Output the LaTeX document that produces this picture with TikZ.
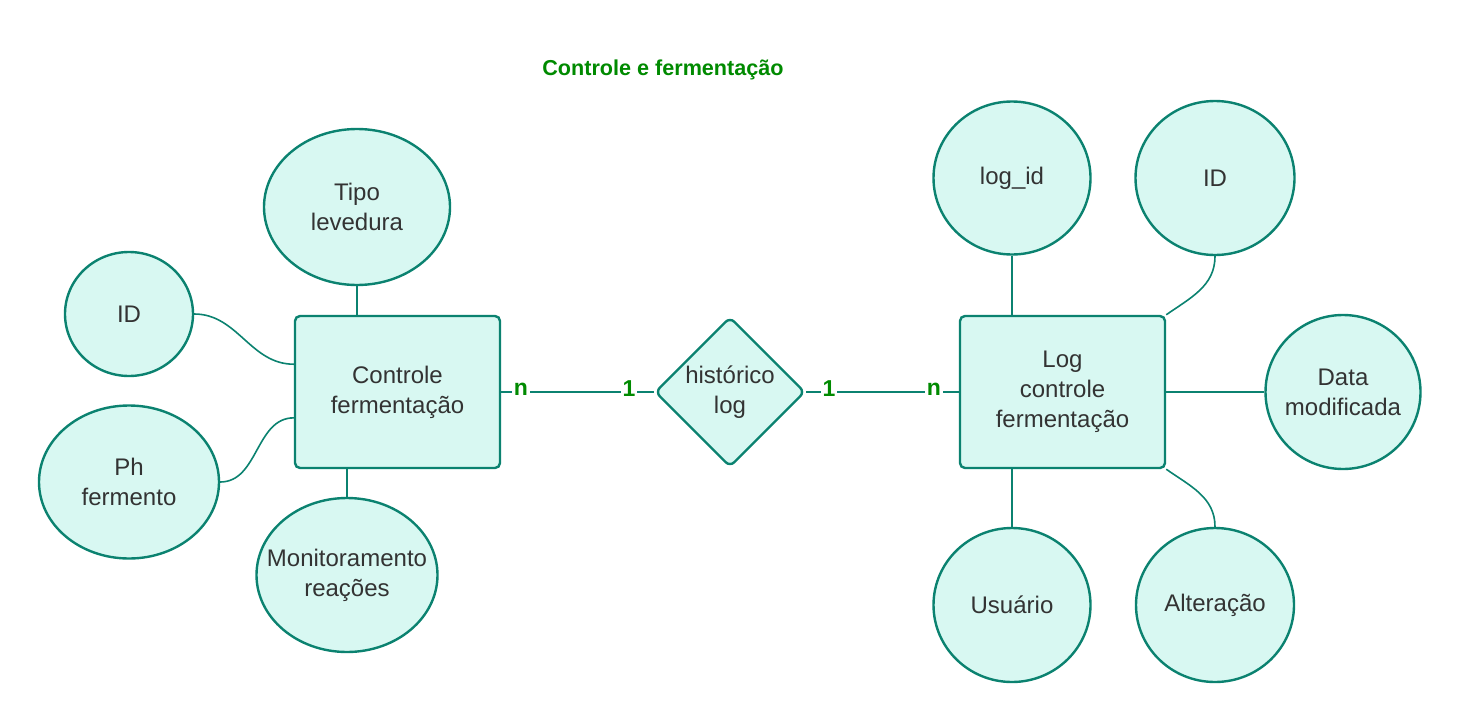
\documentclass[tikz,border=0pt]{standalone}
\usepackage{fontspec}
\setmainfont{Liberation Sans}
\usetikzlibrary{shapes.geometric,positioning}
\definecolor{borda}{HTML}{0B8270}
\definecolor{fundo}{HTML}{D8F8F2}
\definecolor{texto}{HTML}{333333}
\definecolor{verde}{HTML}{008A00}

\begin{document}
\begin{tikzpicture}[x=1pt,y=-1pt,
        entidade/.style={draw=borda, fill=fundo, line width=2.4pt, rounded corners=5pt,
            minimum width=205pt, minimum height=152pt, align=center, text=texto,
            font=\fontsize{24}{30}\selectfont},
        atributo/.style={ellipse, draw=borda, fill=fundo, line width=2.4pt, inner sep=0pt,
            align=center, text=texto, font=\fontsize{24}{30}\selectfont},
        relacao/.style={diamond, draw=borda, fill=fundo, line width=2.4pt, rounded corners=6pt,
            minimum width=150pt, minimum height=150pt, inner sep=0pt, align=center,
            text=texto, font=\fontsize{24}{30}\selectfont},
        ligacao/.style={draw=borda, line width=1.6pt},
        card/.style={text=verde, fill=white, inner sep=1.5pt,
            font=\bfseries\fontsize{23}{23}\selectfont}]
    \useasboundingbox (0,0) rectangle (1461,720);

    \node[text=verde, font=\bfseries\fontsize{21.6}{24}\selectfont] (titulo) at (663,70) {Controle e fermentação};

    % entidades e relacao
    \node[entidade] (ctrl) at (397.5,392) {Controle\\fermentação};
    \node[relacao] (hist) at (730,392) {histórico\\log};
    \node[entidade] (logc) at (1062.5,392) {Log\\controle\\fermentação};

    % atributos de controle
    \node[atributo, minimum width=186pt, minimum height=156pt] (tipo) at (357,207) {Tipo\\levedura};
    \node[atributo, minimum width=128pt, minimum height=124pt] (idc) at (129,314) {ID};
    \node[atributo, minimum width=180pt, minimum height=153pt] (ph) at (129,482) {Ph\\fermento};
    \node[atributo, minimum width=181pt, minimum height=154pt, inner xsep=-18pt] (monit) at (347,575) {Monitoramento\\reações};

    % atributos do log
    \node[atributo, minimum width=157pt, minimum height=153pt] (logid) at (1012,178) {log\_id};
    \node[atributo, minimum width=159pt, minimum height=154pt] (idl) at (1215,178) {ID};
    \node[atributo, minimum width=155pt, minimum height=154pt, inner xsep=-8pt] (data) at (1343,392) {Data\\modificada};
    \node[atributo, minimum width=157pt, minimum height=154pt] (usu) at (1012,605) {Usuário};
    \node[atributo, minimum width=158pt, minimum height=154pt] (alt) at (1215,605) {Alteração};

    % ligacoes
    \draw[ligacao] (tipo.south) -- (tipo.south |- ctrl.north);
    \draw[ligacao] (idc.east) to[out=0, in=180] (ctrl.165);
    \draw[ligacao] (ph.east) to[out=0, in=180] (ctrl.194);
    \draw[ligacao] (monit.north) -- (monit.north |- ctrl.south);
    \draw[ligacao] (ctrl.east) -- (hist.west);
    \draw[ligacao] (hist.east) -- (logc.west);
    \draw[ligacao] (logid.south) -- (logid.south |- logc.north);
    \draw[ligacao] (idl.south) to[out=270, in=35] (logc.north east);
    \draw[ligacao] (data.west) -- (logc.east);
    \draw[ligacao] (usu.north) -- (usu.north |- logc.south);
    \draw[ligacao] (logc.south east) to[out=-35, in=90] (alt.north);

    % cardinalidades
    \node[card] (c1) at (521,389) {n};
    \node[card] (c2) at (629,389) {1};
    \node[card] (c3) at (829,389) {1};
    \node[card] (c4) at (934,389) {n};
\end{tikzpicture}
\end{document}
